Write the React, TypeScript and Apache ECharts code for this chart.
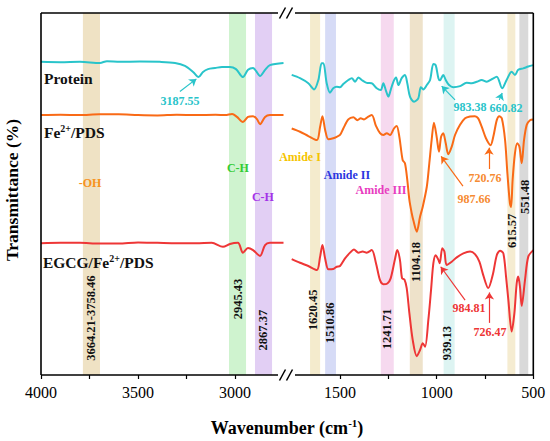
import React, { useEffect, useRef } from "react";
import * as echarts from "echarts";

// ---------- data (wavenumber cm-1, transmittance a.u. with vertical offsets) ----------
const proteinHigh: [number, number][] = [
  [4000, 86.5], [3900, 86.4], [3799, 86.5], [3696, 86.2], [3660, 86.7], [3593, 86.5], [3490, 86.6],
  [3387, 86.5], [3309, 86.2], [3258, 85.4], [3216, 83.7], [3188, 82.3], [3165, 83.7], [3139, 84.5],
  [3103, 84.8], [3067, 85.1], [3026, 85.1], [2995, 84.5], [2959, 82.3], [2933, 84.3], [2907, 84.8],
  [2892, 84.0], [2871, 82.6], [2845, 84.3], [2820, 85.6], [2750, 86.2],
];
const proteinLow: [number, number][] = [
  [1750, 82.9], [1707, 82.0], [1664, 80.6], [1634, 78.9], [1612, 81.5], [1595, 86.1], [1586, 86.1],
  [1569, 80.6], [1552, 78.0], [1535, 79.2], [1517, 79.6], [1500, 79.5], [1483, 80.4], [1457, 81.5],
  [1439, 82.0], [1422, 81.0], [1405, 82.2], [1388, 81.5], [1362, 80.7], [1336, 80.6], [1310, 79.2],
  [1289, 78.7], [1276, 80.6], [1262, 78.5], [1250, 76.9], [1238, 78.7], [1224, 81.0], [1210, 82.2],
  [1198, 80.1], [1181, 82.0], [1164, 82.9], [1152, 80.6], [1138, 76.9], [1117, 75.5], [1095, 76.4],
  [1082, 79.5], [1069, 78.9], [1051, 80.1], [1034, 81.5], [1017, 85.9], [1005, 85.6], [991, 82.0],
  [983, 81.4], [966, 82.9], [953, 81.5], [936, 80.1], [914, 79.5], [879, 79.8], [845, 80.7],
  [819, 80.6], [793, 81.0], [767, 81.5], [741, 81.0], [715, 81.7], [689, 82.4], [661, 79.2],
  [638, 81.5], [612, 83.8], [595, 82.9], [578, 84.3], [552, 84.7], [526, 85.2], [500, 85.6],
];
const fePdsHigh: [number, number][] = [
  [4000, 71.8], [3900, 71.9], [3800, 71.8], [3700, 72.0], [3600, 72.0], [3500, 71.8], [3400, 71.7],
  [3300, 71.9], [3200, 71.8], [3100, 71.9], [3050, 71.8], [3015, 72.1], [2990, 71.3], [2959, 69.9],
  [2933, 71.3], [2907, 71.5], [2887, 70.7], [2871, 69.3], [2845, 71.3], [2820, 71.8], [2750, 71.8],
];
const fePdsLow: [number, number][] = [
  [1750, 68.1], [1707, 67.2], [1664, 66.0], [1620, 64.9], [1603, 68.6], [1591, 71.5], [1577, 67.7],
  [1560, 65.1], [1535, 65.4], [1517, 65.8], [1500, 66.3], [1483, 68.1], [1457, 70.6], [1431, 71.2],
  [1410, 70.4], [1393, 70.9], [1376, 70.6], [1359, 71.2], [1336, 71.8], [1314, 68.8], [1293, 66.8],
  [1276, 66.3], [1258, 66.8], [1241, 66.3], [1221, 68.1], [1207, 68.8], [1193, 65.8], [1176, 59.4],
  [1164, 58.5], [1152, 53.9], [1141, 48.3], [1129, 44.7], [1121, 42.8], [1103, 39.6], [1086, 43.7],
  [1072, 46.5], [1051, 52.0], [1038, 58.5], [1026, 64.9], [1014, 69.7], [1000, 65.8], [988, 61.7],
  [977, 65.8], [966, 66.8], [953, 64.0], [940, 61.0], [922, 63.1], [905, 66.3], [879, 69.1],
  [853, 70.9], [827, 71.4], [802, 71.5], [785, 70.9], [767, 68.6], [745, 65.4], [721, 63.5],
  [707, 65.8], [689, 70.4], [676, 71.5], [663, 70.9], [646, 64.9], [634, 55.7], [621, 47.4],
  [615, 46.4], [607, 53.9], [595, 61.2], [583, 64.0], [572, 63.1], [560, 58.5], [548, 64.9],
  [534, 69.1], [517, 70.4], [500, 70.6],
];
const egcgHigh: [number, number][] = [
  [4000, 36.4], [3900, 36.5], [3800, 36.5], [3700, 36.3], [3600, 36.3], [3500, 36.6], [3400, 36.5],
  [3300, 36.4], [3200, 36.4], [3120, 36.5], [3062, 35.4], [3026, 36.2], [2985, 36.5], [2959, 33.8],
  [2933, 35.1], [2907, 34.5], [2871, 32.9], [2845, 35.9], [2820, 36.5], [2750, 36.5],
];
const egcgLow: [number, number][] = [
  [1750, 32.0], [1707, 31.0], [1664, 30.1], [1620, 29.0], [1603, 32.7], [1591, 35.9], [1577, 32.2],
  [1560, 29.2], [1535, 29.3], [1517, 29.9], [1500, 30.1], [1474, 32.2], [1448, 33.8], [1428, 34.7],
  [1405, 33.8], [1383, 34.1], [1362, 33.8], [1336, 34.5], [1314, 30.9], [1293, 26.2], [1276, 25.1],
  [1255, 25.3], [1238, 26.7], [1215, 32.2], [1204, 34.5], [1190, 31.8], [1179, 26.7], [1167, 26.4],
  [1155, 24.0], [1141, 17.0], [1124, 9.7], [1103, 5.2], [1086, 6.9], [1072, 8.8], [1060, 7.8],
  [1043, 15.2], [1029, 23.5], [1017, 30.9], [1005, 33.1], [991, 31.8], [984, 30.9], [971, 35.0],
  [960, 34.1], [948, 30.4], [922, 31.3], [896, 32.5], [862, 33.6], [827, 34.1], [802, 33.4],
  [779, 31.3], [759, 27.6], [733, 24.0], [710, 27.6], [689, 33.1], [672, 34.3], [655, 33.6],
  [641, 27.2], [629, 20.7], [612, 12.0], [598, 17.0], [586, 25.3], [578, 27.2], [569, 24.4],
  [560, 19.1], [543, 26.2], [526, 32.7], [500, 34.5],
];

// highlighted bands [from, to, colour]
const bandsHigh: [number, number, string][] = [
  [3696, 3784, "#EFE2C4"], [2943, 3031, "#CFF3CF"], [2809, 2897, "#E2CFF4"],
];
const bandsLow: [number, number, string][] = [
  [1603, 1655, "#F4EBCD"], [1521, 1577, "#D6DBF6"], [1222, 1289, "#F6D9EF"], [1072, 1139, "#EEE2CA"],
  [907, 964, "#DDF4F2"], [593, 634, "#F5ECD1"], [526, 572, "#D9D9D9"],
];

const ticksHigh = [4000, 3750, 3500, 3250, 3000];
const labelsHigh = [4000, 3500, 3000];
const ticksLow = [1500, 1250, 1000, 750, 500];
const labelsLow = [1500, 1000, 500];

const CYAN = "#29C4CA";
const ORANGE = "#F96A16";
const ORANGE_TXT = "#F68B32";
const RED = "#EE3636";

// annotation texts: [text, grid, wavenumber, value, colour]
const peakTexts: [string, number, number, number, string][] = [
  ["3187.55", 0, 3284, 75.7, CYAN], ["983.38", 1, 827, 74.0, CYAN], ["660.82", 1, 641, 73.8, CYAN],
  ["987.66", 1, 807, 48.6, ORANGE_TXT], ["720.76", 1, 750, 54.4, ORANGE_TXT],
  ["984.81", 1, 833, 18.5, RED], ["726.47", 1, 724, 11.9, RED],
  ["-OH", 0, 3747, 53.0, "#F7931E"], ["C-H", 0, 2985, 57.2, "#33CC33"], ["C-H", 0, 2856, 49.2, "#A431E8"],
  ["Amide I", 1, 1707, 60.2, "#F5C400"], ["Amide II", 1, 1464, 55.2, "#2B36E0"], ["Amide III", 1, 1288, 51.1, "#E83CC0"],
];
const bandTexts: [string, number, number, number][] = [
  ["3664.21-3758.46", 0, 3742, 15.7], ["2945.43", 0, 2985, 21.0], ["2867.37", 0, 2856, 12.4],
  ["1620.45", 1, 1640, 18.0], ["1510.86", 1, 1552, 14.4], ["1241.71", 1, 1257, 12.7],
  ["1104.18", 1, 1107, 31.2], ["939.13", 1, 947, 8.8], ["615.57", 1, 610, 39.8], ["551.48", 1, 543, 49.2],
];
// series names: [rich text, wavenumber, value]
const seriesNames: [string, number, number][] = [
  ["{b|Protein}", 3985, 82.0],
  ["{b|Fe}{s|2+}{b|/PDS}", 3985, 67.1],
  ["{b|EGCG/Fe}{s|2+}{b|/PDS}", 3990, 31.2],
];
// arrows: [from [w, v], to [w, v]]
const arrowsProteinHigh = [[[3284, 78.3], [3199, 81.8]]];
const arrowsProteinLow = [[[905, 76.0], [974, 79.8]], [[676, 76.0], [661, 77.9]]];
const arrowsFe = [[[864, 52.2], [977, 60.4]], [[729, 56.9], [729, 62.8]]];
const arrowsEgcg = [[[853, 20.7], [979, 29.9]], [[727, 14.4], [727, 22.8]]];

// ---------- layout ----------
const FONT = '"Liberation Serif", "Times New Roman", serif';
const G = { left: 41, top: 13, bottom: 375, lEnd: 283.5, rStart: 291.7, right: 533.3 };

function arrowLine(list: number[][][], color: string) {
  return {
    silent: true,
    symbol: ["none", "arrow"],
    symbolSize: 7,
    label: { show: false },
    lineStyle: { color, width: 1.2, type: "solid" },
    data: list.map(([a, b]) => [{ coord: a }, { coord: b }]),
  };
}

function lineSeries(name: string, data: [number, number][], g: number, color: string, arrows?: number[][][]) {
  return {
    name,
    type: "line",
    xAxisIndex: g,
    yAxisIndex: g,
    data,
    smooth: 0.3,
    showSymbol: false,
    symbol: "none",
    z: 3,
    lineStyle: { color, width: 2 },
    markLine: arrows ? arrowLine(arrows, color) : undefined,
  };
}

function bandSeries(g: number, bands: [number, number, string][]) {
  return {
    type: "line",
    xAxisIndex: g,
    yAxisIndex: g,
    data: [],
    z: 1,
    silent: true,
    markArea: {
      silent: true,
      data: bands.map(([a, b, c]) => [{ xAxis: a, itemStyle: { color: c } }, { xAxis: b }]),
    },
  };
}

function xAxisOf(g: number, min: number, max: number, ticks: number[], labels: number[]) {
  return {
    gridIndex: g,
    type: "value",
    min,
    max,
    inverse: true,
    axisLine: { show: false },
    splitLine: { show: false },
    axisTick: { show: true, customValues: ticks, length: 4, inside: false, lineStyle: { color: "#000", width: 1.2 } },
    axisLabel: {
      show: true, customValues: labels, fontSize: 16, fontFamily: FONT, color: "#000", margin: 9,
      formatter: (v: number) => String(v),
    },
  };
}

export default function App() {
  const ref = useRef<HTMLDivElement>(null);
  useEffect(() => {
    if (!ref.current) return;
    const chart = echarts.init(ref.current, undefined, { renderer: "svg" });
    chart.setOption({
      animation: false,
      backgroundColor: "#fff",
      grid: [
        { left: G.left, top: G.top, width: G.lEnd - G.left, height: G.bottom - G.top },
        { left: G.rStart, top: G.top, width: G.right - G.rStart, height: G.bottom - G.top },
      ],
      xAxis: [
        xAxisOf(0, 2750, 4000, ticksHigh, labelsHigh),
        xAxisOf(1, 500, 1750, ticksLow, labelsLow),
      ],
      yAxis: [
        { gridIndex: 0, type: "value", min: 0, max: 100, show: false },
        { gridIndex: 1, type: "value", min: 0, max: 100, show: false },
      ],
      series: [
        bandSeries(0, bandsHigh),
        bandSeries(1, bandsLow),
        lineSeries("Protein", proteinHigh, 0, CYAN, arrowsProteinHigh),
        lineSeries("Protein", proteinLow, 1, CYAN, arrowsProteinLow),
        lineSeries("Fe2+/PDS", fePdsHigh, 0, ORANGE),
        lineSeries("Fe2+/PDS", fePdsLow, 1, ORANGE, arrowsFe),
        lineSeries("EGCG/Fe2+/PDS", egcgHigh, 0, RED),
        lineSeries("EGCG/Fe2+/PDS", egcgLow, 1, RED, arrowsEgcg),
      ],
    });

    const px = (g: number, w: number, v: number) =>
      chart.convertToPixel({ xAxisIndex: g, yAxisIndex: g } as any, [w, v]) as number[];

    const graphics: any[] = [];
    // frame
    const frame = { stroke: "#000", lineWidth: 1.6 };
    const gapL = 278, gapR = 295;
    graphics.push(
      { type: "line", shape: { x1: G.left, y1: G.top, x2: G.left, y2: G.bottom }, style: frame, z: 10 },
      { type: "line", shape: { x1: G.right, y1: G.top, x2: G.right, y2: G.bottom }, style: frame, z: 10 },
      { type: "line", shape: { x1: G.left, y1: G.top, x2: gapL, y2: G.top }, style: frame, z: 10 },
      { type: "line", shape: { x1: gapR, y1: G.top, x2: G.right, y2: G.top }, style: frame, z: 10 },
      { type: "line", shape: { x1: G.left, y1: G.bottom, x2: gapL, y2: G.bottom }, style: frame, z: 10 },
      { type: "line", shape: { x1: gapR, y1: G.bottom, x2: G.right, y2: G.bottom }, style: frame, z: 10 },
    );
    [G.top, G.bottom].forEach((yy) => {
      [282.5, 289.5].forEach((xx) => {
        graphics.push({
          type: "line",
          shape: { x1: xx - 3, y1: yy + 5.5, x2: xx + 3, y2: yy - 5.5 },
          style: { stroke: "#000", lineWidth: 1.5 },
          z: 10,
        });
      });
    });

    peakTexts.forEach(([t, g, w, v, c]) => {
      const [x, y] = px(g, w, v);
      graphics.push({
        type: "text", x, y, z: 12,
        style: { text: t, fill: c, fontSize: 12, fontWeight: "bold", fontFamily: FONT, align: "center", verticalAlign: "middle" },
      });
    });
    bandTexts.forEach(([t, g, w, v]) => {
      const [x, y] = px(g, w, v);
      graphics.push({
        type: "text", x, y, rotation: Math.PI / 2, z: 12,
        style: { text: t, fill: "#111", fontSize: 12.5, fontWeight: "bold", fontFamily: FONT, align: "center", verticalAlign: "middle" },
      });
    });
    seriesNames.forEach(([t, w, v]) => {
      const [x, y] = px(0, w, v);
      graphics.push({
        type: "text", x, y, z: 12,
        style: {
          text: t, align: "left", verticalAlign: "middle",
          rich: {
            b: { fontSize: 15.5, fontWeight: "bold", fontFamily: FONT, fill: "#111", lineHeight: 18 },
            s: { fontSize: 10, fontWeight: "bold", fontFamily: FONT, fill: "#111", lineHeight: 18, verticalAlign: "top", padding: [0, 0, 6, 0] },
          },
        },
      });
    });
    // axis titles
    graphics.push({
      type: "text", x: 287, y: 428, z: 12,
      style: {
        text: "{b|Wavenumber (cm}{s|-1}{b|)}", align: "center", verticalAlign: "middle",
        rich: {
          b: { fontSize: 18, fontWeight: "bold", fontFamily: FONT, fill: "#000", lineHeight: 22 },
          s: { fontSize: 11, fontWeight: "bold", fontFamily: FONT, fill: "#000", lineHeight: 22, verticalAlign: "top", padding: [0, 0, 8, 0] },
        },
      },
    });
    graphics.push({
      type: "text", x: 12, y: 190, rotation: Math.PI / 2, z: 12,
      style: { text: "Transmittance (%)", fill: "#000", fontSize: 17.5, fontWeight: "bold", fontFamily: FONT, align: "center", verticalAlign: "middle" },
    });

    chart.setOption({ graphic: graphics });
    return () => chart.dispose();
  }, []);
  return <div ref={ref} style={{ position: "fixed", left: 0, top: 0, width: 550, height: 441 }} />;
}
